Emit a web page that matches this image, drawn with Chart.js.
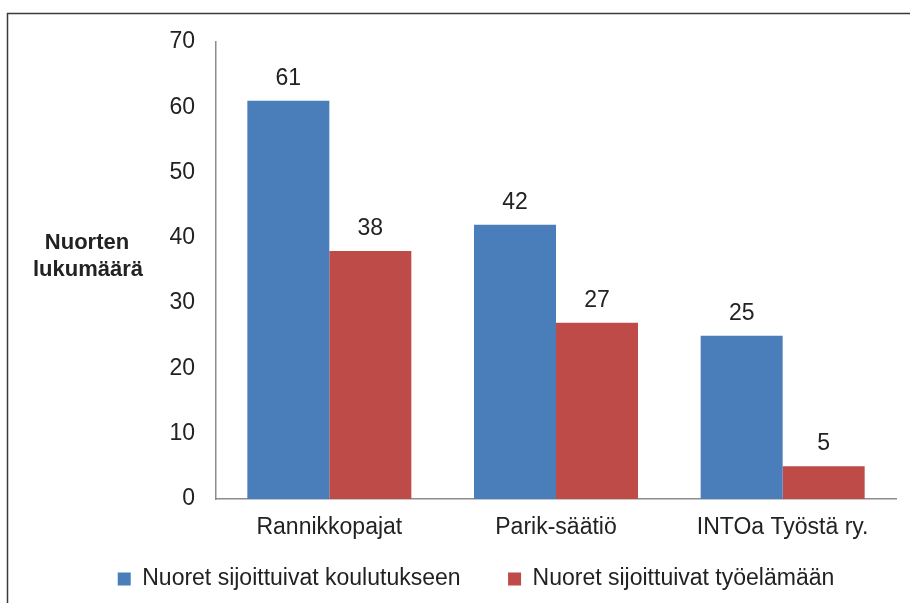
<!DOCTYPE html>
<html>
<head>
<meta charset="utf-8">
<script src="https://cdn.jsdelivr.net/npm/chart.js@4/dist/chart.umd.min.js"></script>
<style>
  html, body { margin: 0; padding: 0; background: #ffffff; }
  #wrap { width: 910px; height: 603px; }
</style>
</head>
<body>
<div id="wrap"><canvas id="c" width="910" height="603"></canvas></div>
<script>
const categories = ["Rannikkopajat", "Parik-säätiö", "INTOa Työstä ry."];
const seriesNames = ["Nuoret sijoittuivat koulutukseen", "Nuoret sijoittuivat työelämään"];
const educationValues = [61, 42, 25];
const workValues = [38, 27, 5];
const yTitleLines = ["Nuorten", "lukumäärä"];

const FONT = "'Liberation Sans', Arial, sans-serif";
const TEXT = "#222222";
const AXIS = "#8c8c8c";

const frame = {
  id: 'frame',
  beforeDraw(chart) {
    const ctx = chart.ctx;
    ctx.save();
    ctx.fillStyle = '#ffffff';
    ctx.fillRect(0, 0, chart.width, chart.height);
    ctx.strokeStyle = '#3a3a3a';
    ctx.lineWidth = 1.5;
    ctx.strokeRect(7.5, 13.5, chart.width + 20, chart.height + 20);
    ctx.restore();
  }
};

const yTitle = {
  id: 'yTitle',
  afterDraw(chart) {
    const ctx = chart.ctx;
    ctx.save();
    ctx.font = "bold 22px " + FONT;
    ctx.fillStyle = TEXT;
    ctx.textAlign = 'center';
    ctx.textBaseline = 'alphabetic';
    ctx.fillText(yTitleLines[0], 87, 249);
    ctx.fillText(yTitleLines[1], 88, 276);
    ctx.restore();
  }
};

const valueLabels = {
  id: 'valueLabels',
  afterDatasetsDraw(chart) {
    const ctx = chart.ctx;
    ctx.save();
    ctx.font = "23px " + FONT;
    ctx.fillStyle = TEXT;
    ctx.textAlign = 'center';
    ctx.textBaseline = 'alphabetic';
    chart.data.datasets.forEach((ds, i) => {
      const meta = chart.getDatasetMeta(i);
      meta.data.forEach((el, j) => {
        ctx.fillText(String(ds.data[j]), el.x, el.y - 16);
      });
    });
    ctx.restore();
  }
};

new Chart(document.getElementById('c'), {
  type: 'bar',
  data: {
    labels: categories,
    datasets: [
      { label: seriesNames[0], data: educationValues, backgroundColor: '#4a7ebb', borderWidth: 0 },
      { label: seriesNames[1], data: workValues, backgroundColor: '#be4b48', borderWidth: 0 }
    ]
  },
  options: {
    responsive: false,
    animation: false,
    devicePixelRatio: 1,
    categoryPercentage: 0.7235,
    barPercentage: 1.0,
    layout: { padding: { left: 56, right: 14, top: 42, bottom: 2.5 } },
    plugins: {
      tooltip: { enabled: false },
      title: { display: false },
      legend: {
        display: true,
        position: 'bottom',
        labels: {
          boxWidth: 13,
          boxHeight: 13,
          padding: 47.5,
          color: TEXT,
          font: { family: FONT, size: 23 }
        }
      }
    },
    scales: {
      x: {
        grid: { display: false, drawTicks: false },
        border: { display: true, color: AXIS, width: 1.5 },
        ticks: { color: TEXT, font: { family: FONT, size: 23 }, mirror: true, padding: -42, maxRotation: 0 },
        afterFit(scale) { scale.height = 21; }
      },
      y: {
        min: 0,
        max: 70,
        grid: { display: false, drawTicks: false },
        border: { display: true, color: AXIS, width: 1.5 },
        ticks: { stepSize: 10, color: TEXT, font: { family: FONT, size: 23 }, padding: 21 },
        afterFit(scale) { scale.width = 160; }
      }
    }
  },
  plugins: [frame, yTitle, valueLabels]
});
</script>
</body>
</html>
